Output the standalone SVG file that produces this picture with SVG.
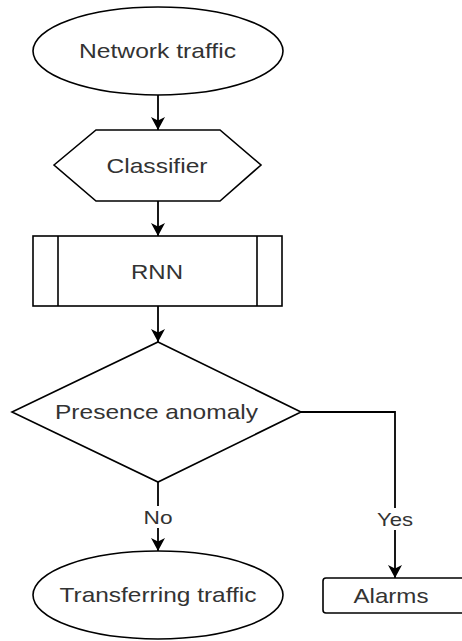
<svg xmlns="http://www.w3.org/2000/svg" width="462" height="641" viewBox="0 0 462 641">
  <style>
    .shape { fill: #ffffff; stroke: #000000; stroke-width: 1.6; }
    .label { font-family: "Liberation Sans", Arial, sans-serif; font-size: 21px; fill: #333333; text-anchor: middle; dominant-baseline: central; }
    .edge-label { font-family: "Liberation Sans", Arial, sans-serif; font-size: 19px; fill: #333333; text-anchor: middle; dominant-baseline: central; }
    .edge { fill: none; stroke: #000000; stroke-width: 1.8; }
  </style>
  <defs>
    <marker id="arrow" markerUnits="userSpaceOnUse" markerWidth="14" markerHeight="16" refX="13" refY="8" orient="auto">
      <path d="M0,1 L13,8 L0,15 L3.5,8 z" fill="#000000"/>
    </marker>
  </defs>
  <rect width="462" height="641" fill="#ffffff"/>

  <g id="connectors">
    <line class="edge" x1="158" y1="95" x2="158" y2="130" marker-end="url(#arrow)"/>
    <line class="edge" x1="158" y1="201" x2="158" y2="236" marker-end="url(#arrow)"/>
    <line class="edge" x1="158" y1="306" x2="158" y2="342" marker-end="url(#arrow)"/>
    <line class="edge" x1="158" y1="482" x2="158" y2="551" marker-end="url(#arrow)"/>
    <polyline class="edge" points="301,412 395,412 395,578" marker-end="url(#arrow)"/>
    <g id="label-no">
      <rect x="143" y="506" width="31" height="22" fill="#ffffff"/>
      <text class="edge-label" x="158" y="517" textLength="29" lengthAdjust="spacingAndGlyphs">No</text>
    </g>
    <g id="label-yes">
      <rect x="376" y="508" width="38" height="22" fill="#ffffff"/>
      <text class="edge-label" x="395" y="519" textLength="36" lengthAdjust="spacingAndGlyphs">Yes</text>
    </g>
  </g>

  <g id="network-traffic">
    <ellipse class="shape" cx="158" cy="51" rx="125" ry="44"/>
    <text class="label" x="157.5" y="50" textLength="157" lengthAdjust="spacingAndGlyphs">Network traffic</text>
  </g>

  <g id="classifier">
    <polygon class="shape" points="54,165 96,130 220,130 261,165 220,201 96,201"/>
    <text class="label" x="157" y="165" textLength="101" lengthAdjust="spacingAndGlyphs">Classifier</text>
  </g>

  <g id="rnn">
    <rect class="shape" x="33" y="236" width="249" height="70"/>
    <line class="shape" x1="58" y1="236" x2="58" y2="306"/>
    <line class="shape" x1="257" y1="236" x2="257" y2="306"/>
    <text class="label" x="157" y="271" textLength="52" lengthAdjust="spacingAndGlyphs">RNN</text>
  </g>

  <g id="presence-anomaly">
    <polygon class="shape" points="158,342 301,412 158,482 12,412"/>
    <text class="label" x="156.5" y="411" textLength="203" lengthAdjust="spacingAndGlyphs">Presence anomaly</text>
  </g>

  <g id="transferring-traffic">
    <ellipse class="shape" cx="158" cy="595" rx="125" ry="44"/>
    <text class="label" x="158" y="594" textLength="197" lengthAdjust="spacingAndGlyphs">Transferring traffic</text>
  </g>

  <g id="alarms">
    <rect class="shape" x="323" y="578" width="150" height="35" rx="3" ry="3"/>
    <text class="label" x="391" y="595" textLength="75" lengthAdjust="spacingAndGlyphs">Alarms</text>
  </g>
</svg>
